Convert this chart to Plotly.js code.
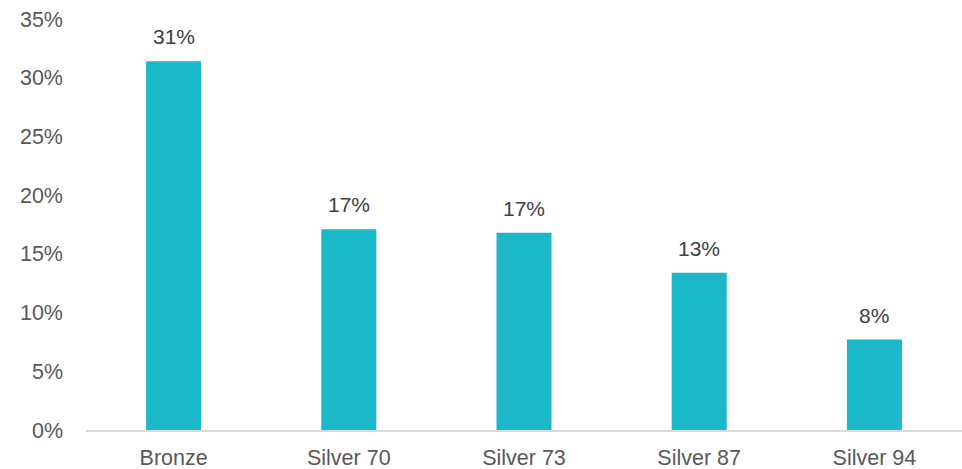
<!DOCTYPE html>
<html><head><meta charset="utf-8">
<script src="https://cdn.plot.ly/plotly-3.0.1.min.js"></script>
<style>html,body{margin:0;padding:0;background:#fff}#chart{width:962px;height:469px}</style>
</head><body><div id="chart"></div>
<script>
const categories = ["Bronze", "Silver 70", "Silver 73", "Silver 87", "Silver 94"];
const shares = [0.314, 0.171, 0.168, 0.134, 0.077];
const labels = ["31%", "17%", "17%", "13%", "8%"];
const yTickVals = [0, 0.05, 0.10, 0.15, 0.20, 0.25, 0.30, 0.35];
const yTickText = ["0%", "5%", "10%", "15%", "20%", "25%", "30%", "35%"];

const FONT = "Liberation Sans, Arial, sans-serif";
const trace = {
  type: "bar", x: categories, y: shares,
  marker: {color: "#1bb8c9"},
  hoverinfo: "none"
};
const annotations = categories.map((c, i) => ({
  x: c, y: shares[i], xref: "x", yref: "y",
  text: labels[i], showarrow: false, yanchor: "bottom", yshift: 11,
  font: {family: FONT, size: 21, color: "#404040"}
}));
const layout = {
  width: 962, height: 469,
  margin: {l: 86, r: 0, t: 19, b: 39},
  paper_bgcolor: "#fff", plot_bgcolor: "#fff",
  bargap: 0.686, showlegend: false,
  font: {family: FONT, size: 21.5, color: "#595959"},
  annotations: annotations,
  xaxis: {showline: true, linecolor: "#d9d9d9", linewidth: 1.5, showgrid: false, ticks: "", ticklabelstandoff: 8, fixedrange: true},
  yaxis: {range: [0, 0.35], tickvals: yTickVals, ticktext: yTickText, showgrid: false, zeroline: false, showline: false, ticks: "", ticklabelstandoff: 22, fixedrange: true}
};
Plotly.newPlot("chart", [trace], layout, {displayModeBar: false, staticPlot: true});
</script></body></html>
